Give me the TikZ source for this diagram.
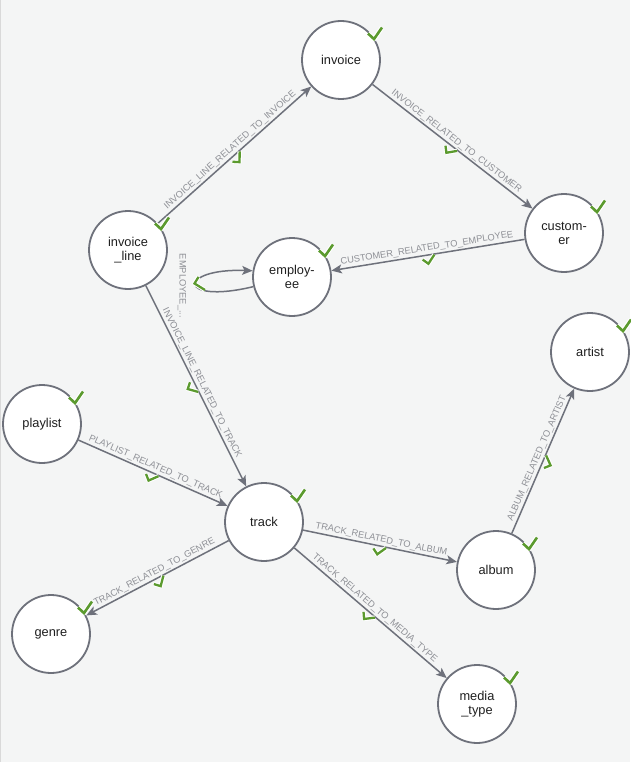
\documentclass[tikz,border=0pt]{standalone}
\usepackage{fontspec}
\setmainfont{Liberation Sans}
\usetikzlibrary{arrows.meta}
\definecolor{bgc}{HTML}{F4F5F5}
\definecolor{edgec}{HTML}{6E717B}
\definecolor{lblc}{HTML}{8E9096}
\definecolor{chkc}{HTML}{5B9A2E}
\definecolor{txtc}{HTML}{1F1F1F}
\tikzset{
  ent/.style={circle, draw=edgec, line width=1.8pt, fill=white, minimum size=78pt,
    inner sep=0pt, align=center, font=\fontsize{12.8}{14}\selectfont, text=txtc},
  rel/.style={draw=edgec, line width=1.5pt, -{Stealth[length=10.5pt,width=9pt,inset=2.5pt]}},
  lbl/.style={font=\fontsize{9.3}{10}\selectfont, text=lblc, inner sep=1.5pt},
  nchk/.pic={
    \draw[arrows=-, white, line width=4.8pt, line join=round] (-6,0)--(0,5.6)--(8,-6);
    \draw[arrows=-, chkc, line width=2.6pt] (-6,0)--(0,5.6)--(8,-6);},
  echk/.pic={
    \draw[arrows=-, white, line width=4.4pt, line join=round] (-6,3.7)--(-1,8.7)--(6.3,0.7);
    \draw[arrows=-, chkc, line width=2.3pt] (-6,3.7)--(-1,8.7)--(6.3,0.7);}
}
\begin{document}
\begin{tikzpicture}[x=1pt,y=-1pt]
\useasboundingbox (0,0) rectangle (630,762);
\fill[bgc] (0,0) rectangle (630,762);
\draw[color=black!15, line width=1.2pt] (0.6,0) -- (0.6,762);

\node[ent] (invoice) at (341,60) {invoice};
\node[ent] (invline) at (128,250) {invoice\\\_line};
\node[ent] (employee) at (292,277) {employ-\\ee};
\node[ent] (customer) at (564,233) {custom-\\er};
\node[ent] (artist) at (590,352) {artist};
\node[ent] (album) at (496,570) {album};
\node[ent] (track) at (264,522) {track};
\node[ent] (playlist) at (42,424) {playlist};
\node[ent] (genre) at (51,634) {genre};
\node[ent] (mediatype) at (477,704) {media\\\_type};

\draw[rel] (invline) -- (invoice)
  node[lbl, midway, above, sloped] {INVOICE\_LINE\_RELATED\_TO\_INVOICE};
\path (invline) -- (invoice) pic[pos=0.5, sloped] {echk};

\draw[rel] (invoice) -- (customer)
  node[lbl, midway, above, sloped] {INVOICE\_RELATED\_TO\_CUSTOMER};
\path (invoice) -- (customer) pic[pos=0.5, sloped] {echk};

\draw[rel] (customer) -- (employee)
  node[lbl, midway, above, sloped] {CUSTOMER\_RELATED\_TO\_EMPLOYEE};
\path (customer) -- (employee) pic[pos=0.5, sloped] {echk};

\draw[rel] (employee.194) .. controls (177,305) and (177,268) .. (employee.171);
\node[lbl, rotate=-90] (emplbl) at (182,286) {EMPLOYEE\_...};
\draw[white, line width=4.4pt, line join=round] (198.5,277)--(194.5,283.5)--(205,290);
\draw[chkc, line width=2.3pt] (198.5,277)--(194.5,283.5)--(205,290);

\draw[rel] (invline) -- (track)
  node[lbl, midway, above, sloped] {INVOICE\_LINE\_RELATED\_TO\_TRACK};
\path (invline) -- (track) pic[pos=0.5, sloped] {echk};

\draw[rel] (playlist) -- (track)
  node[lbl, midway, above, sloped] {PLAYLIST\_RELATED\_TO\_TRACK};
\path (playlist) -- (track) pic[pos=0.5, sloped] {echk};

\draw[rel] (track) -- (genre)
  node[lbl, midway, above, sloped] {TRACK\_RELATED\_TO\_GENRE};
\path (track) -- (genre) pic[pos=0.5, sloped] {echk};

\draw[rel] (track) -- (album)
  node[lbl, midway, above, sloped] {TRACK\_RELATED\_TO\_ALBUM};
\path (track) -- (album) pic[pos=0.5, sloped] {echk};

\draw[rel] (track) -- (mediatype)
  node[lbl, midway, above, sloped] {TRACK\_RELATED\_TO\_MEDIA\_TYPE};
\path (track) -- (mediatype) pic[pos=0.5, sloped] {echk};

\draw[rel] (album) -- (artist)
  node[lbl, midway, above, sloped] {ALBUM\_RELATED\_TO\_ARTIST};
\path (album) -- (artist) pic[pos=0.5, sloped] {echk};

\foreach \n in {invoice,invline,employee,customer,artist,album,track,playlist,genre,mediatype}
  \path (\n.center) ++(33,-26.5) pic {nchk};
\end{tikzpicture}
\end{document}
